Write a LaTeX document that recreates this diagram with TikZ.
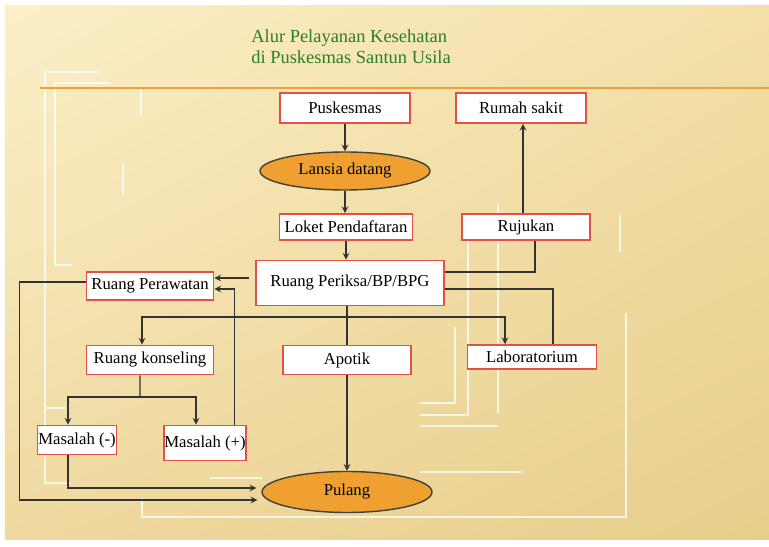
\documentclass[tikz,border=0pt]{standalone}
\usepackage{fontspec}
\setmainfont{Liberation Serif}
\usetikzlibrary{shapes.geometric, shadings}

\definecolor{bgA}{HTML}{FCEFC8}
\definecolor{bgB}{HTML}{F3E0A8}
\definecolor{bgC}{HTML}{EFD9A0}
\definecolor{bgD}{HTML}{E6CE8A}
\definecolor{boxred}{HTML}{E2504A}
\definecolor{ovalorange}{HTML}{F0A030}
\definecolor{titlegreen}{HTML}{2A7F26}
\definecolor{ruleorange}{HTML}{E9A23E}
\definecolor{linegray}{HTML}{333333}

\tikzset{
  >=stealth,
  box/.style={draw=boxred, fill=white, line width=1pt, inner sep=0pt, font=\fontsize{9.5}{11}\selectfont},
  oval/.style={ellipse, draw=black!75, fill=ovalorange, line width=0.8pt, inner sep=0pt,
    minimum width=3.4cm, font=\fontsize{9.5}{11}\selectfont},
  link/.style={draw=linegray, line width=0.7pt},
  deco/.style={white, line width=1.1pt, opacity=0.75}
}

\begin{document}
\begin{tikzpicture}[x=0.02cm, y=-0.02cm]
    % Background
    \fill[white] (0,0) rectangle (769,547);
    \shade[upper left=bgA, upper right=bgB, lower left=bgC, lower right=bgD] (5,6) rectangle (769,540);
    \useasboundingbox (0,0) rectangle (769,547);

    % Template lines
    \draw[deco] (100,72) -- (45,72) -- (45,483) -- (70,483);
    \draw[deco] (45,408) -- (65,408);
    \draw[deco] (110,83) -- (55,83) -- (55,265) -- (72,265);
    \draw[deco] (141,88) -- (141,115);
    \draw[deco] (123,163) -- (123,195);
    \draw[deco] (142,498) -- (142,517) -- (626,517) -- (626,313);
    \draw[deco] (620,215) -- (620,252);
    \draw[deco] (498,203) -- (498,413);
    \draw[deco] (468,230) -- (468,415) -- (420,415);
    \draw[deco] (455,327) -- (455,403) -- (420,403);
    \draw[deco] (420,426) -- (498,426);
    \draw[deco] (420,472) -- (522,472);
    \draw[deco] (210,478) -- (262,478);
    \draw[ruleorange, line width=1.3pt] (40,88) -- (769,88);

    % Title
    \node[titlegreen, anchor=north west, align=left, inner sep=0pt,
      font=\fontsize{10.5}{12}\selectfont] (title) at (251,29)
      {Alur Pelayanan Kesehatan\\di Puskesmas Santun Usila};

    % Boxes
    \node[box, minimum width=2.6cm, minimum height=0.6cm] (pusk) at (345,108) {Puskesmas};
    \node[box, minimum width=2.6cm, minimum height=0.6cm] (rumah) at (521,108) {Rumah sakit};
    \node[oval, minimum height=0.76cm] (lansia) at (345,171) {Lansia datang};
    \node[box, minimum width=2.66cm, minimum height=0.52cm] (loket) at (346,227) {Loket Pendaftaran};
    \node[box, minimum width=2.56cm, minimum height=0.52cm] (rujukan) at (526,227) {Rujukan};
    \node[box, minimum width=3.76cm, minimum height=0.9cm] (periksa) at (350,283) {Ruang Periksa/BP/BPG};
    \node[box, minimum width=2.54cm, minimum height=0.56cm] (perawatan) at (150,286) {Ruang Perawatan};
    \node[box, minimum width=2.54cm, minimum height=0.58cm] (konseling) at (150,360) {Ruang konseling};
    \node[box, minimum width=2.56cm, minimum height=0.58cm] (apotik) at (347,360) {Apotik};
    \node[box, minimum width=2.58cm, minimum height=0.48cm] (lab) at (532,357) {Laboratorium};
    \node[box, minimum width=1.58cm, minimum height=0.58cm] (masminus) at (77,440) {Masalah (-)};
    \node[box, minimum width=1.58cm, minimum height=0.7cm] (masplus) at (205,443) {Masalah (+)};
    \node[oval, minimum height=0.82cm] (pulang) at (347,492) {Pulang};

    % Main column
    \draw[link, ->] (pusk) -- (lansia);
    \draw[link, ->] (lansia) -- (lansia |- loket.north);
    \draw[link, ->] (loket) -- (loket |- periksa.north);
    \draw[link, ->] (apotik) -- (pulang);

    % Split under the examination room
    \coordinate (split) at (347,317);
    \draw[link] (periksa.south -| split) -- (apotik.north);
    \draw[link, ->] (split) -| ([xshift=-0.16cm]konseling.north);
    \draw[link, ->] (split) -| ([xshift=-0.54cm]lab.north);

    % Referral and lab
    \draw[link] ([yshift=0.22cm]periksa.east) -| ([xshift=0.18cm]rujukan.south);
    \draw[link, ->] ([xshift=-0.06cm]rujukan.north) -- ([xshift=-0.06cm]rujukan.north |- rumah.south);
    \draw[link] ([yshift=-0.12cm]periksa.east) -| ([xshift=0.42cm]lab.north);

    % Care room
    \draw[link, ->] ([xshift=-0.12cm, yshift=0.1cm]periksa.west) -- ([yshift=0.1cm]periksa.west -| perawatan.east);
    \draw[link, ->] ([xshift=-0.24cm]masplus.north east) |- ([yshift=-0.06cm]perawatan.east);
    \draw[link, ->] ([yshift=0.08cm]perawatan.west) -- ++(-66,0) |- ([xshift=-0.08cm, yshift=-0.16cm]pulang.west);

    % Counselling
    \coordinate (split2) at (140,397);
    \draw[link] ([xshift=-0.2cm]konseling.south) -- (split2);
    \draw[link, ->] (split2) -| ([xshift=-0.18cm]masminus.north);
    \draw[link, ->] (split2) -| ([xshift=-0.18cm]masplus.north);
    \draw[link, ->] ([xshift=-0.18cm]masminus.south) |- ([xshift=-0.1cm, yshift=0.08cm]pulang.west);
\end{tikzpicture}
\end{document}
